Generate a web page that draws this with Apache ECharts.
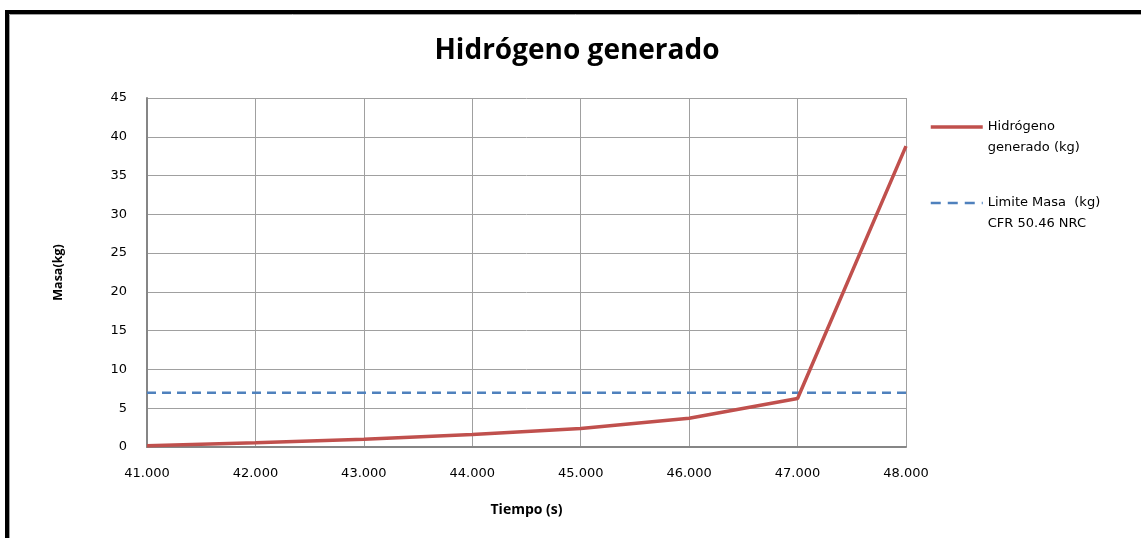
<!DOCTYPE html>
<html>
<head>
<meta charset="utf-8">
<script src="https://cdn.jsdelivr.net/npm/echarts@6/dist/echarts.min.js"></script>
<style>
html,body{margin:0;padding:0;background:#fff;}
#chart{width:1141px;height:538px;}
</style>
</head>
<body>
<div id="chart"></div>
<script>
// Data
var categories = ['41.000','42.000','43.000','44.000','45.000','46.000','47.000','48.000'];
var hidrogeno = [0.17, 0.56, 1.0, 1.6, 2.4, 3.7, 6.25, 38.8];
var limite = [7, 7, 7, 7, 7, 7, 7, 7];
var seriesNames = ['Hidrógeno generado (kg)', 'Limite Masa  (kg) CFR 50.46 NRC'];
var legendLabels = ['\u00a0\nHidrógeno\ngenerado (kg)', '\u00a0\nLimite Masa  (kg)\nCFR 50.46 NRC'];

var chart = echarts.init(document.getElementById('chart'));
var tickFont = 'DejaVu Sans';
chart.setOption({
  animation: false,
  title: {
    text: 'Hidrógeno generado',
    left: 572, top: 32, textAlign: 'center',
    textStyle: {fontFamily: 'Open Sans', fontWeight: 'bold', fontSize: 28, color: '#000'}
  },
  graphic: [
    {type: 'rect', shape: {x: 7, y: 12, width: 1200, height: 600}, style: {fill: 'none', stroke: '#000', lineWidth: 4}},
    {type: 'rect', shape: {x: 9.5, y: 14.5, width: 1200, height: 600}, style: {fill: 'none', stroke: '#a0a0a0', lineWidth: 1}}
  ],
  legend: {
    orient: 'vertical',
    left: 929, top: 95.5, padding: 0,
    itemWidth: 52, itemHeight: 14, itemGap: 13,
    itemStyle: {opacity: 0},
    data: [
      {name: seriesNames[0], lineStyle: {width: 3.5, color: '#C0504D'}},
      {name: seriesNames[1], lineStyle: {width: 2.5, color: '#4F81BD', type: [10, 7]}}
    ],
    formatter: function (name) { return legendLabels[seriesNames.indexOf(name)]; },
    textStyle: {fontFamily: tickFont, fontSize: 13, color: '#000', lineHeight: 21}
  },
  grid: {left: 147, top: 98, right: 235, bottom: 91, containLabel: false},
  xAxis: {
    type: 'category', data: categories, boundaryGap: false,
    name: 'Tiempo (s)', nameLocation: 'middle', nameGap: 56,
    nameTextStyle: {fontFamily: 'Open Sans', fontWeight: 'bold', fontSize: 14, color: '#000'},
    axisLine: {lineStyle: {color: '#868686', width: 2}},
    axisTick: {show: false},
    axisLabel: {fontFamily: tickFont, fontSize: 13, color: '#000', margin: 20},
    splitLine: {show: true, lineStyle: {color: '#a0a0a0', width: 1}}
  },
  yAxis: {
    type: 'value', min: 0, max: 45, interval: 5,
    name: 'Masa(kg)', nameLocation: 'middle', nameGap: 82, nameRotate: 90,
    nameTextStyle: {fontFamily: 'Open Sans', fontWeight: 'bold', fontSize: 12.5, color: '#000'},
    axisLine: {show: true, lineStyle: {color: '#868686', width: 2}},
    axisTick: {show: false},
    axisLabel: {fontFamily: tickFont, fontSize: 13, color: '#000', margin: 20},
    splitLine: {show: true, lineStyle: {color: '#a0a0a0', width: 1}}
  },
  series: [
    {
      name: seriesNames[0], type: 'line', data: hidrogeno,
      symbol: 'none', z: 3,
      lineStyle: {color: '#C0504D', width: 3.5},
      itemStyle: {color: '#C0504D'}
    },
    {
      name: seriesNames[1], type: 'line', data: limite,
      symbol: 'none', z: 2,
      lineStyle: {color: '#4F81BD', width: 2.5, type: [9, 6]},
      itemStyle: {color: '#4F81BD'}
    }
  ]
});
</script>
</body>
</html>
